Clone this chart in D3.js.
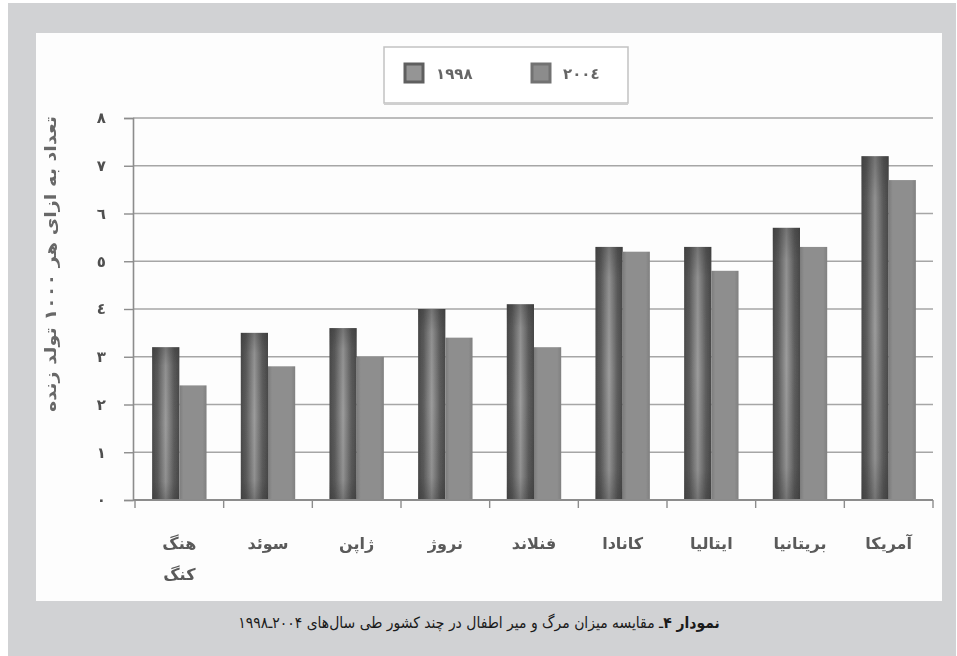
<!DOCTYPE html>
<html lang="fa">
<head>
<meta charset="utf-8">
<script src="https://cdn.jsdelivr.net/npm/d3@7"></script>
<style>
  html, body { margin: 0; padding: 0; background: #ffffff; }
  svg { display: block; }
</style>
</head>
<body>
<svg id="chart" width="957" height="656"></svg>
<script>
// Infant mortality per 1000 live births, 1998 vs 2004
const countries = ["هنگ کنگ", "سوئد", "ژاپن", "نروژ", "فنلاند", "کانادا", "ایتالیا", "بریتانیا", "آمریکا"];
const seriesNames = ["1998", "2004"];
const seriesLabels = ["١٩٩٨", "٢٠٠٤"];
const values1998 = [3.2, 3.5, 3.6, 4.0, 4.1, 5.3, 5.3, 5.7, 7.2];
const values2004 = [2.4, 2.8, 3.0, 3.4, 3.2, 5.2, 4.8, 5.3, 6.7];
const yTicks = [0, 1, 2, 3, 4, 5, 6, 7, 8];
const yTickLabels = ["٠", "١", "٢", "٣", "٤", "٥", "٦", "٧", "٨"];
const yTitle = "تعداد به ازای هر ۱۰۰۰ تولد زنده";
const captionBold = "نمودار ۴";
const captionText = "ـ مقایسه میزان مرگ و میر اطفال در چند کشور طی سال‌های ۲۰۰۴ـ۱۹۹۸";

const svg = d3.select("#chart");
const font = "'DejaVu Sans', sans-serif";
const captionFont = "'DejaVu Sans Condensed', 'DejaVu Sans', sans-serif";

// page frame: grey panel with white chart card
svg.append("rect").attr("x", 8).attr("y", 3).attr("width", 948).attr("height", 653).attr("fill", "#d1d2d4");
svg.append("rect").attr("x", 36).attr("y", 33).attr("width", 906).attr("height", 568).attr("fill", "#fdfdfd");

const defs = svg.append("defs");
const soft = defs.append("filter").attr("id", "soft").attr("x", "-5%").attr("y", "-5%").attr("width", "110%").attr("height", "110%");
soft.append("feGaussianBlur").attr("stdDeviation", 0.6);

// cylinder-like shading for the 1998 bars
const gH = defs.append("linearGradient").attr("id", "darkH").attr("x1", 0).attr("x2", 1).attr("y1", 0).attr("y2", 0);
[[0, "#4a4a4a"], [0.2, "#5e5e5e"], [0.5, "#9c9c9c"], [0.8, "#5e5e5e"], [1, "#4a4a4a"]]
  .forEach(([o, c]) => gH.append("stop").attr("offset", o).attr("stop-color", c));
const gV = defs.append("linearGradient").attr("id", "darkV").attr("x1", 0).attr("x2", 0).attr("y1", 0).attr("y2", 1);
[[0, 0.35], [0.12, 0.1], [0.5, 0], [0.88, 0.1], [1, 0.35]]
  .forEach(([o, a]) => gV.append("stop").attr("offset", o).attr("stop-color", "#2a2a2a").attr("stop-opacity", a));
const gL = defs.append("linearGradient").attr("id", "lightH").attr("x1", 0).attr("x2", 1).attr("y1", 0).attr("y2", 0);
[[0, "#7c7c7c"], [0.15, "#8e8e8e"], [0.85, "#8e8e8e"], [1, "#808080"]]
  .forEach(([o, c]) => gL.append("stop").attr("offset", o).attr("stop-color", c));

const g = svg.append("g").attr("filter", "url(#soft)");

const x0 = d3.scaleBand().domain(countries).range([135, 933]).paddingInner(0).paddingOuter(0);
const x1 = d3.scaleBand().domain(seriesNames).range([0, x0.bandwidth()]).paddingInner(0).paddingOuter(0.63);
const y = d3.scaleLinear().domain([0, 8]).range([500, 118]);

// horizontal gridlines
g.append("g").selectAll("line").data(yTicks.filter(d => d > 0)).join("line")
  .attr("x1", 133).attr("x2", 933)
  .attr("y1", d => y(d)).attr("y2", d => y(d))
  .attr("stroke", "#a6a6a6").attr("stroke-width", 1.6);

// bars
const rows = countries.map((c, i) => ({ country: c, v: { "1998": values1998[i], "2004": values2004[i] } }));
const groups = g.append("g").selectAll("g").data(rows).join("g")
  .attr("transform", d => `translate(${x0(d.country)},0)`);

groups.append("rect")
  .attr("x", x1("1998")).attr("width", x1.bandwidth())
  .attr("y", d => y(d.v["1998"])).attr("height", d => y(0) - y(d.v["1998"]))
  .attr("fill", "url(#darkH)");
groups.append("rect")
  .attr("x", x1("1998")).attr("width", x1.bandwidth())
  .attr("y", d => y(d.v["1998"])).attr("height", d => y(0) - y(d.v["1998"]))
  .attr("fill", "url(#darkV)");
groups.append("rect")
  .attr("x", x1("2004")).attr("width", x1.bandwidth())
  .attr("y", d => y(d.v["2004"])).attr("height", d => y(0) - y(d.v["2004"]))
  .attr("fill", "url(#lightH)");

// y axis
const yAxis = d3.axisLeft(y).tickValues(yTicks).tickSize(9).tickPadding(18)
  .tickFormat((d, i) => yTickLabels[i]);
const ya = g.append("g").attr("transform", "translate(133,0)").call(yAxis);
ya.select(".domain").attr("stroke", "#8c8c8c").attr("stroke-width", 1.6);
ya.selectAll(".tick line").attr("stroke", "#8c8c8c").attr("stroke-width", 1.4);
ya.selectAll(".tick text").attr("font-family", font).attr("font-size", 15).attr("font-weight", "bold").attr("fill", "#4f4f4f");

// x axis: baseline with ticks between categories
g.append("line").attr("x1", 133).attr("x2", 933).attr("y1", y(0)).attr("y2", y(0))
  .attr("stroke", "#8c8c8c").attr("stroke-width", 1.8);
g.append("g").selectAll("line").data(d3.range(countries.length + 1)).join("line")
  .attr("x1", i => 135 + i * x0.step()).attr("x2", i => 135 + i * x0.step())
  .attr("y1", y(0)).attr("y2", y(0) + 8)
  .attr("stroke", "#8c8c8c").attr("stroke-width", 1.4);

// category labels (first one wraps onto two lines)
const labels = g.append("g").selectAll("text").data(countries).join("text")
  .attr("x", d => x0(d) + x0.bandwidth() / 2)
  .attr("y", 549)
  .attr("text-anchor", "middle")
  .attr("direction", "rtl")
  .attr("font-family", font).attr("font-size", 16).attr("font-weight", "bold").attr("fill", "#5a5a5a");
labels.each(function (d) {
  const parts = d.split(" ");
  const t = d3.select(this);
  parts.forEach((p, i) => {
    t.append("tspan").attr("x", x0(d) + x0.bandwidth() / 2).attr("dy", i === 0 ? 0 : 31).text(p);
  });
});

// y axis title
g.append("text")
  .attr("transform", "translate(56,264) rotate(-90)")
  .attr("text-anchor", "middle").attr("direction", "rtl")
  .attr("font-family", font).attr("font-size", 16).attr("font-weight", "bold").attr("fill", "#686868")
  .attr("textLength", 296).attr("lengthAdjust", "spacingAndGlyphs")
  .text(yTitle);

// legend
const lg = g.append("g");
lg.append("rect").attr("x", 384).attr("y", 47).attr("width", 244).attr("height", 56)
  .attr("fill", "#ffffff").attr("stroke", "#c2c2c2").attr("stroke-width", 1.5);
lg.append("line").attr("x1", 384).attr("x2", 628).attr("y1", 104).attr("y2", 104)
  .attr("stroke", "#cfcfcf").attr("stroke-width", 2);
const legendX = [405, 532];
const swatchFill = ["#959595", "#8c8c8c"];
const swatchStroke = ["#5e5e5e", "#727272"];
seriesNames.forEach((s, i) => {
  lg.append("rect").attr("x", legendX[i]).attr("y", 64).attr("width", 18).attr("height", 18)
    .attr("fill", swatchFill[i]).attr("stroke", swatchStroke[i]).attr("stroke-width", 3);
  lg.append("text").attr("x", legendX[i] + 31).attr("y", 79)
    .attr("font-family", font).attr("font-size", 15).attr("font-weight", "bold").attr("fill", "#666")
    .attr("letter-spacing", 4)
    .text(seriesLabels[i]);
});

// caption
const cap = svg.append("text")
  .attr("x", 479).attr("y", 628)
  .attr("text-anchor", "middle").attr("direction", "rtl")
  .attr("font-family", captionFont).attr("font-size", 15.5).attr("fill", "#1a1a1a");
cap.append("tspan").attr("font-weight", "bold").text(captionBold);
cap.append("tspan").text(captionText);
</script>
</body>
</html>
